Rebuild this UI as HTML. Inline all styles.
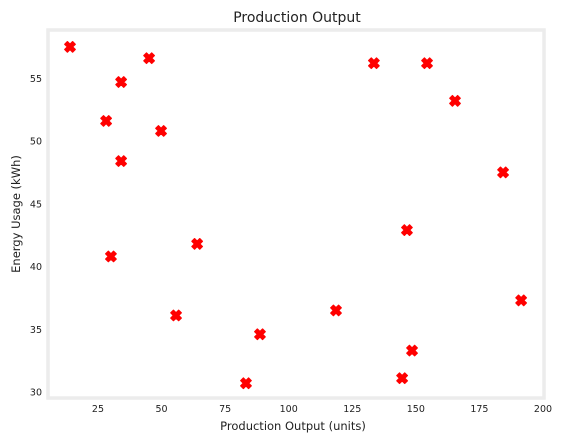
<!DOCTYPE html>
<html><head><meta charset="utf-8"><style>
body{margin:0;background:#fff;}
svg text{font-family:"DejaVu Sans","Liberation Sans",sans-serif;fill:#222;}
</style></head><body>
<svg width="561" height="443" viewBox="0 0 561 443">
<rect x="0" y="0" width="561" height="443" fill="#fff"/>
<text x="297" y="22" font-size="14" text-anchor="middle">Production Output</text>
<rect x="48" y="30" width="496" height="368" fill="#fff" stroke="#ececec" stroke-width="3.5"/>
<g id="xt"></g>
<g id="yt"></g>
<g id="pts"></g>
<text x="293" y="430" font-size="11.5" text-anchor="middle">Production Output (units)</text>
<text transform="translate(20,214) rotate(-90)" font-size="11.5" text-anchor="middle">Energy Usage (kWh)</text>
</svg>
<script>
const xTicks=[25,50,75,100,125,150,175,200];
const yTicks=[30,35,40,45,50,55];
const xVals=[14,28.2,34.1,45.1,34.1,49.8,30.1,64,55.7,88.7,83.2,118.6,133.5,154.4,165.4,146.5,144.6,148.5,184.3,191.4];
const yVals=[57.5,51.6,54.7,56.6,48.4,50.8,40.8,41.8,36.1,34.6,30.7,36.5,56.2,56.2,53.2,42.9,31.1,33.3,47.5,37.3];
const NS='http://www.w3.org/2000/svg';
function sx(v){return 34.4+v*2.543;}
function sy(v){return 392-(v-30)*12.55;}
const xt=document.getElementById('xt'),yt=document.getElementById('yt'),pts=document.getElementById('pts');
xTicks.forEach(t=>{const e=document.createElementNS(NS,'text');
e.setAttribute('x',sx(t));e.setAttribute('y',412);e.setAttribute('font-size','9.5');e.setAttribute('text-anchor','middle');


e.textContent=t;xt.appendChild(e);});
yTicks.forEach(t=>{const e=document.createElementNS(NS,'text');
e.setAttribute('x',42);e.setAttribute('y',sy(t)+3.5);e.setAttribute('font-size','9.5');e.setAttribute('text-anchor','end');


e.textContent=t;yt.appendChild(e);});
const s=5.3,w=2.7;
xVals.forEach((xv,i)=>{const cx=sx(xv),cy=sy(yVals[i]);
const p=document.createElementNS(NS,'path');
const d=`M${cx-s+w},${cy-s} L${cx},${cy-w} L${cx+s-w},${cy-s} L${cx+s},${cy-s+w} L${cx+w},${cy} L${cx+s},${cy+s-w} L${cx+s-w},${cy+s} L${cx},${cy+w} L${cx-s+w},${cy+s} L${cx-s},${cy+s-w} L${cx-w},${cy} L${cx-s},${cy-s+w} Z`;
p.setAttribute('d',d);p.setAttribute('fill','#ff0000');p.setAttribute('stroke','#ff0000');p.setAttribute('stroke-width','1.2');p.setAttribute('stroke-linejoin','round');


pts.appendChild(p);});
</script>
</body></html>
